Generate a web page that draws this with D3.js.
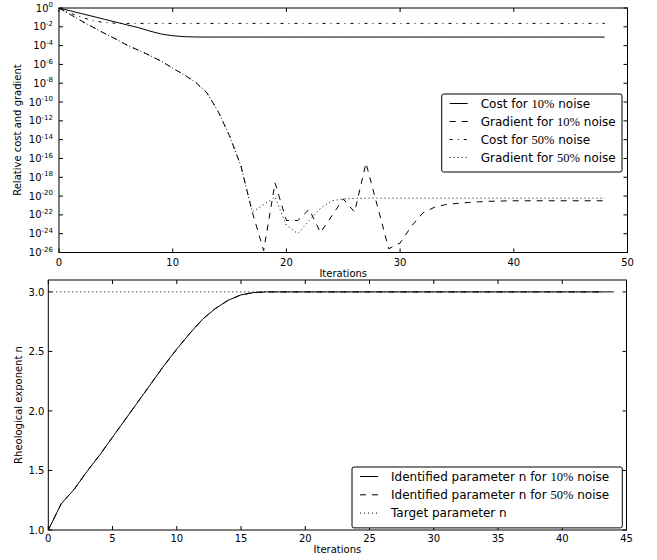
<!DOCTYPE html>
<html>
<head>
<meta charset="utf-8">
<script src="https://cdn.jsdelivr.net/npm/d3@7"></script>
<style>
  body { margin: 0; background: #fff; }
  svg { display: block; }
  text { font-family: "DejaVu Sans", sans-serif; fill: #000; white-space: pre; }
  .math { font-family: "Liberation Serif", "DejaVu Serif", serif; }
</style>
</head>
<body>
<script>
// ---------- data: relative cost and gradient per iteration (0..48) ----------
const costNoise10 = [1, 0.5, 0.25, 0.126, 0.063, 0.0316, 0.0158, 8.1e-3, 3.5e-3, 1.7e-3,
  1.12e-3, 8.9e-4, 8.3e-4, 8.1e-4, 8.1e-4, 8.1e-4, 8.1e-4, 8.1e-4, 8.1e-4, 8.1e-4,
  8.1e-4, 8.1e-4, 8.1e-4, 8.1e-4, 8.1e-4, 8.1e-4, 8.1e-4, 8.1e-4, 8.1e-4, 8.1e-4,
  8.1e-4, 8.1e-4, 8.1e-4, 8.1e-4, 8.1e-4, 8.1e-4, 8.1e-4, 8.1e-4, 8.1e-4, 8.1e-4,
  8.1e-4, 8.1e-4, 8.1e-4, 8.1e-4, 8.1e-4, 8.1e-4, 8.1e-4, 8.1e-4, 8.1e-4];

const gradNoise10 = [1, 0.2, 0.04, 8.9e-3, 2.0e-3, 5.0e-4, 1.1e-4, 3.2e-5, 8.9e-6, 2.2e-6,
  4.0e-7, 7.9e-8, 1.3e-8, 1e-9, 1e-11, 2.5e-14, 1.6e-17, 2e-22, 1.6e-26, 2.5e-19,
  2.5e-23, 2.5e-23, 4e-22, 1.3e-24, 8e-23, 5e-21, 2e-22, 3.2e-17, 9e-22, 2.5e-26,
  1e-25, 6.3e-24, 1.6e-22, 6.3e-22, 1.26e-21, 1.66e-21, 2.1e-21, 2.5e-21, 2.8e-21, 3.0e-21,
  3.16e-21, 3.16e-21, 3.16e-21, 3.16e-21, 3.16e-21, 3.16e-21, 3.16e-21, 3.16e-21, 3.16e-21];

const costNoise50 = [1, 0.28, 0.1, 0.045, 0.028, 0.024, 0.023, 0.023, 0.023, 0.023,
  0.023, 0.023, 0.023, 0.023, 0.023, 0.023, 0.023, 0.023, 0.023, 0.023,
  0.023, 0.023, 0.023, 0.023, 0.023, 0.023, 0.023, 0.023, 0.023, 0.023,
  0.023, 0.023, 0.023, 0.023, 0.023, 0.023, 0.023, 0.023, 0.023, 0.023,
  0.023, 0.023, 0.023, 0.023, 0.023, 0.023, 0.023, 0.023, 0.023];

const gradNoise50 = [1, 0.2, 0.04, 8.9e-3, 2.0e-3, 5.0e-4, 1.1e-4, 3.2e-5, 8.9e-6, 2.2e-6,
  4.0e-7, 7.9e-8, 1.3e-8, 1e-9, 1e-11, 2.5e-14, 1.6e-17, 2e-22, 1.26e-21, 8e-21,
  8e-24, 1e-24, 2.5e-23, 5e-22, 3.2e-21, 5e-21, 5.6e-21, 6e-21, 6e-21, 6e-21,
  6e-21, 6e-21, 6e-21, 6e-21, 6e-21, 6e-21, 6e-21, 6e-21, 6e-21, 6e-21,
  6e-21, 6e-21, 6e-21, 6e-21, 6e-21, 6e-21, 6e-21, 6e-21, 6e-21];

// ---------- data: identified rheological exponent n per iteration ----------
const nNoise10 = [1.0, 1.22, 1.34, 1.49, 1.63, 1.78, 1.93, 2.08, 2.23, 2.38,
  2.52, 2.65, 2.77, 2.86, 2.93, 2.975, 2.995, 3.0, 3.0, 3.0,
  3.0, 3.0, 3.0, 3.0, 3.0, 3.0, 3.0, 3.0, 3.0, 3.0,
  3.0, 3.0, 3.0, 3.0, 3.0, 3.0, 3.0, 3.0, 3.0, 3.0,
  3.0, 3.0, 3.0, 3.0, 3.0];

const nNoise50 = [1.0, 1.22, 1.34, 1.49, 1.63, 1.78, 1.93, 2.08, 2.23, 2.38,
  2.52, 2.65, 2.77, 2.86, 2.93, 2.975, 2.995, 3.0, 3.0, 3.0,
  3.0, 3.0, 3.0, 3.0, 3.0, 3.0, 3.0, 3.0, 3.0, 3.0,
  3.0, 3.0, 3.0, 3.0, 3.0, 3.0, 3.0, 3.0, 3.0, 3.0,
  3.0, 3.0, 3.0, 3.0];

const nTarget = [3.0, 3.0, 3.0, 3.0, 3.0, 3.0, 3.0, 3.0, 3.0, 3.0,
  3.0, 3.0, 3.0, 3.0, 3.0, 3.0, 3.0, 3.0, 3.0, 3.0,
  3.0, 3.0, 3.0, 3.0, 3.0, 3.0, 3.0, 3.0, 3.0, 3.0,
  3.0, 3.0, 3.0, 3.0, 3.0, 3.0, 3.0, 3.0, 3.0, 3.0,
  3.0, 3.0, 3.0, 3.0];

// ---------- tick values ----------
const topXTicks = [0, 10, 20, 30, 40, 50];
const topYExponents = [0, -2, -4, -6, -8, -10, -12, -14, -16, -18, -20, -22, -24, -26];
const botXTicks = [0, 5, 10, 15, 20, 25, 30, 35, 40, 45];
const botYTicks = [1.0, 1.5, 2.0, 2.5, 3.0];

// matplotlib-style dash patterns
const DASH = { solid: null, dashed: "6,6", dashdot: "3,5,1,5", dotted: "1,3" };

const W = 657, H = 560;
const svg = d3.select("body").append("svg").attr("width", W).attr("height", H)
  .style("background", "#fff");

function frameAxes(g, x, y, xTicks, yTicks) {
  const [x0, x1] = x.range(), [y0, y1] = y.range();
  // inward ticks on all four sides
  const tk = g.append("g").attr("stroke", "#000").attr("stroke-width", 1);
  xTicks.forEach(t => {
    const px = x(t);
    tk.append("line").attr("x1", px).attr("x2", px).attr("y1", y0).attr("y2", y0 - 4);
    tk.append("line").attr("x1", px).attr("x2", px).attr("y1", y1).attr("y2", y1 + 4);
  });
  yTicks.forEach(t => {
    const py = y(t);
    tk.append("line").attr("x1", x0).attr("x2", x0 + 4).attr("y1", py).attr("y2", py);
    tk.append("line").attr("x1", x1).attr("x2", x1 - 4).attr("y1", py).attr("y2", py);
  });
  g.append("rect").attr("x", x0).attr("y", y1).attr("width", x1 - x0).attr("height", y0 - y1)
    .attr("fill", "none").attr("stroke", "#000").attr("stroke-width", 1);
}

function drawSeries(g, x, y, values, style, clipId) {
  const line = d3.line().x((d, i) => x(i)).y(d => y(d));
  g.append("path").datum(values)
    .attr("d", line)
    .attr("fill", "none").attr("stroke", "#000").attr("stroke-width", 1)
    .attr("stroke-dasharray", DASH[style])
    .attr("clip-path", `url(#${clipId})`);
}

function legendLabel(t, parts, size) {
  parts.forEach(p => {
    const ts = t.append("tspan").text(p.s);
    if (p.math) ts.attr("class", "math").style("font-size", (size + 0.5) + "px");
  });
}

function drawLegend(g, x0, y0, w, rowH, items, size) {
  const h = rowH * items.length + 6;
  g.append("rect").attr("x", x0).attr("y", y0).attr("width", w).attr("height", h)
    .attr("rx", 2).attr("fill", "#fff").attr("stroke", "#000").attr("stroke-width", 1);
  items.forEach((it, i) => {
    const cy = y0 + 9.5 + i * rowH;
    g.append("line").attr("x1", x0 + 8).attr("x2", x0 + 26).attr("y1", cy).attr("y2", cy)
      .attr("stroke", "#000").attr("stroke-width", 1)
      .attr("stroke-dasharray", DASH[it.style]);
    const t = g.append("text").attr("x", x0 + 39).attr("y", cy + 4.3)
      .style("font-size", size + "px");
    legendLabel(t, it.parts, size);
  });
}

// ---------------- top panel: relative cost and gradient ----------------
{
  const g = svg.append("g");
  const x = d3.scaleLinear().domain([0, 50]).range([59, 627.5]);
  const y = d3.scaleLog().domain([1e-26, 1]).range([252.5, 8]);
  const iters = d3.range(costNoise10.length);

  svg.append("clipPath").attr("id", "clipTop").append("rect")
    .attr("x", 59).attr("y", 8).attr("width", 627.5 - 59).attr("height", 252.5 - 8);

  drawSeries(g, x, y, costNoise10, "solid", "clipTop");
  drawSeries(g, x, y, gradNoise10, "dashed", "clipTop");
  drawSeries(g, x, y, costNoise50, "dashdot", "clipTop");
  drawSeries(g, x, y, gradNoise50, "dotted", "clipTop");

  const yTickVals = topYExponents.map(e => Math.pow(10, e));
  frameAxes(g, x, y, topXTicks, yTickVals);

  // y tick labels as 10^k
  topYExponents.forEach(e => {
    const t = g.append("text").attr("x", 53).attr("y", y(Math.pow(10, e)) + 3.6)
      .attr("text-anchor", "end").style("font-size", "10px");
    t.append("tspan").text("10");
    t.append("tspan").attr("dy", -4.5).style("font-size", "7px").text(e === 0 ? "0" : "-" + (-e));
  });
  topXTicks.forEach(v => {
    g.append("text").attr("x", x(v)).attr("y", 266).attr("text-anchor", "middle")
      .style("font-size", "10px").text(v);
  });
  g.append("text").attr("x", (59 + 627.5) / 2).attr("y", 276.5).attr("text-anchor", "middle")
    .style("font-size", "10px").text("Iterations");
  g.append("text").attr("transform", "translate(20.5,130) rotate(-90)")
    .attr("text-anchor", "middle").style("font-size", "10px").text("Relative cost and gradient");

  drawLegend(g, 441.7, 94, 180.3, 18, [
    { style: "solid",   parts: [{ s: "Cost for " }, { s: "10%", math: true }, { s: " noise" }] },
    { style: "dashed",  parts: [{ s: "Gradient for " }, { s: "10%", math: true }, { s: " noise" }] },
    { style: "dashdot", parts: [{ s: "Cost for " }, { s: "50%", math: true }, { s: " noise" }] },
    { style: "dotted",  parts: [{ s: "Gradient for " }, { s: "50%", math: true }, { s: " noise" }] }
  ], 12);
}

// ---------------- bottom panel: rheological exponent ----------------
{
  const g = svg.append("g");
  const x = d3.scaleLinear().domain([0, 45]).range([48.3, 626.5]);
  const y = d3.scaleLinear().domain([1.0, 3.1]).range([530, 280]);

  svg.append("clipPath").attr("id", "clipBot").append("rect")
    .attr("x", 48.3).attr("y", 280).attr("width", 626.5 - 48.3).attr("height", 250);

  drawSeries(g, x, y, nNoise10, "solid", "clipBot");
  drawSeries(g, x, y, nNoise50, "dashed", "clipBot");
  drawSeries(g, x, y, nTarget, "dotted", "clipBot");

  frameAxes(g, x, y, botXTicks, botYTicks);

  botYTicks.forEach(v => {
    g.append("text").attr("x", 44.3).attr("y", y(v) + 3.6).attr("text-anchor", "end")
      .style("font-size", "10px").text(d3.format(".1f")(v));
  });
  botXTicks.forEach(v => {
    g.append("text").attr("x", x(v)).attr("y", 542).attr("text-anchor", "middle")
      .style("font-size", "10px").text(v);
  });
  g.append("text").attr("x", (48.3 + 626.5) / 2).attr("y", 553).attr("text-anchor", "middle")
    .style("font-size", "10px").text("Iterations");
  g.append("text").attr("transform", "translate(21.5,405) rotate(-90)")
    .attr("text-anchor", "middle").style("font-size", "10px").text("Rheological exponent n");

  drawLegend(g, 352, 467, 270.3, 18.3, [
    { style: "solid",  parts: [{ s: "Identified parameter n for " }, { s: "10%", math: true }, { s: " noise" }] },
    { style: "dashed", parts: [{ s: "Identified parameter n for " }, { s: "50%", math: true }, { s: " noise" }] },
    { style: "dotted", parts: [{ s: "Target parameter n" }] }
  ], 12);
}
</script>
</body>
</html>
